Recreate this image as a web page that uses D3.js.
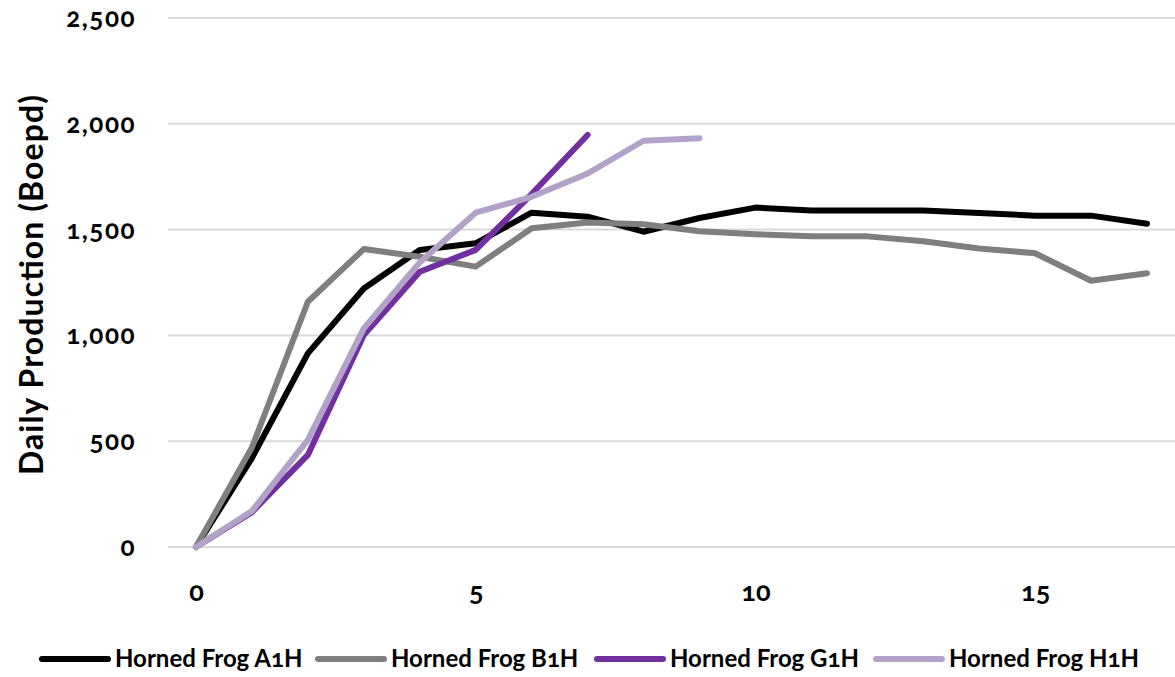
<!DOCTYPE html>
<html><head><meta charset="utf-8">
<script src="https://cdn.jsdelivr.net/npm/d3@7"></script>
<style>
body{margin:0;background:#fff;}
text{font-family:Lato,"Open Sans",sans-serif;font-weight:bold;fill:#000;font-variant-numeric:oldstyle-nums;}
</style></head>
<body><svg id="c" width="1175" height="677"></svg>
<script>
const days = [0,1,2,3,4,5,6,7,8,9,10,11,12,13,14,15,16,17];
const seriesNames = ["Horned Frog A1H","Horned Frog B1H","Horned Frog G1H","Horned Frog H1H"];
const a1h = [0,420,915,1222,1404,1435,1580,1561,1490,1555,1604,1590,1590,1590,1578,1566,1566,1528];
const b1h = [0,470,1159,1408,1372,1325,1506,1534,1525,1492,1478,1468,1468,1445,1411,1388,1258,1294];
const g1h = [0,165,435,1002,1301,1404,1668,1947];
const h1h = [0,170,506,1033,1345,1580,1655,1765,1920,1932];
const yTicks = [0,500,1000,1500,2000,2500];
const xTicks = [0,5,10,15];
const colors = ["#000000","#7f7f7f","#7030a0","#b3a2c7"];
const allSeries = [a1h,b1h,g1h,h1h];

const svg = d3.select("#c");
const x = d3.scaleLinear().domain([-0.5,17.5]).range([168,1175]);
const y = d3.scaleLinear().domain([0,2500]).range([547,18]);

// gridlines
svg.append("g").selectAll("line").data(yTicks).join("line")
  .attr("x1",168).attr("x2",1175)
  .attr("y1",d=>y(d)).attr("y2",d=>y(d))
  .attr("stroke","#d9d9d9").attr("stroke-width",2);

// y axis labels
const yAxis = d3.axisLeft(y).tickValues(yTicks).tickFormat(d3.format(",")).tickSize(0).tickPadding(0);
const gy = svg.append("g").attr("transform","translate(136,0)").call(yAxis);
gy.select(".domain").remove();
gy.selectAll("text").style("font-size","26px").style("letter-spacing","1.5px").attr("dy","0.33em").style("font-family","Lato, sans-serif").attr("fill","#000");

// x axis labels
const xAxis = d3.axisBottom(x).tickValues(xTicks).tickSize(0).tickPadding(0);
const gx = svg.append("g").attr("transform","translate(0,593)").call(xAxis);
gx.select(".domain").remove();
gx.selectAll("text").style("font-size","27px").attr("dy","0.3em").style("font-family","Lato, sans-serif").attr("fill","#000");

// y title
svg.append("text").attr("transform","translate(43,285) rotate(-90)")
  .attr("text-anchor","middle").style("font-size","32px")
  .attr("textLength",380).attr("lengthAdjust","spacing")
  .text("Daily Production (Boepd)");

// lines
const line = d3.line().x((d,i)=>x(days[i])).y(d=>y(d));
svg.append("g").selectAll("path").data(allSeries).join("path")
  .attr("d",line).attr("fill","none")
  .attr("stroke",(d,i)=>colors[i]).attr("stroke-width",6)
  .attr("stroke-linejoin","round").attr("stroke-linecap","round");

// legend
const legX = [42,318,597,876];
const lg = svg.append("g").selectAll("g").data(seriesNames).join("g")
  .attr("transform",(d,i)=>`translate(${legX[i]},659)`);
lg.append("line").attr("x1",0).attr("x2",66).attr("y1",0).attr("y2",0)
  .attr("stroke",(d,i)=>colors[i]).attr("stroke-width",6).attr("stroke-linecap","round");
lg.append("text").attr("x",73).attr("dy","0.35em").style("font-size","24px").text(d=>d);
</script></body></html>
